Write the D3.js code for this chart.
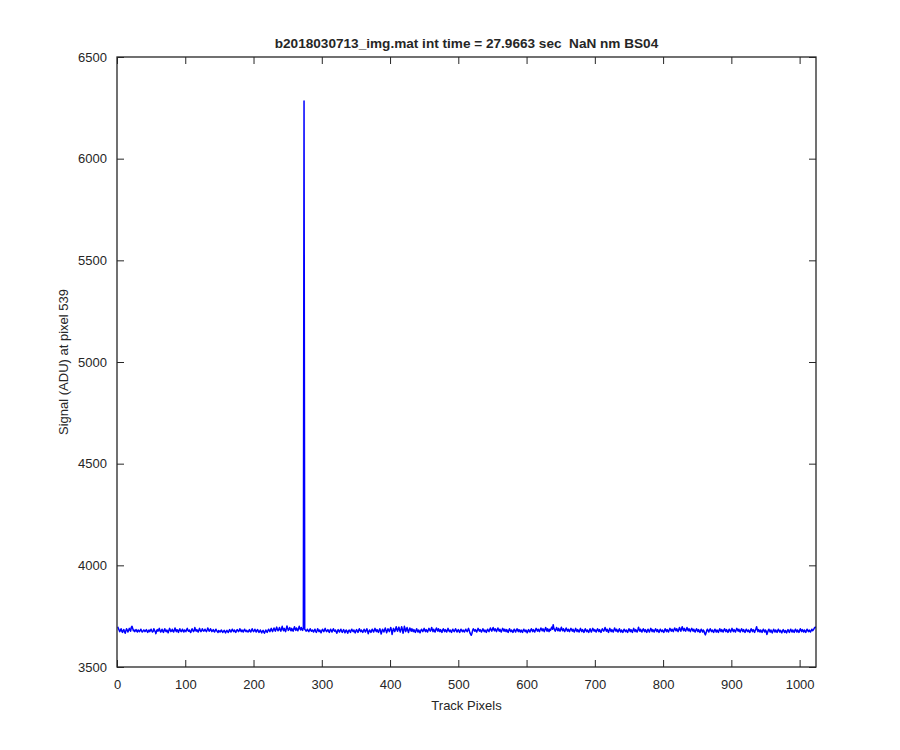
<!DOCTYPE html>
<html><head><meta charset="utf-8">
<script src="https://cdn.jsdelivr.net/npm/d3@7"></script>
<style>
html,body{margin:0;padding:0;background:#fff;}
svg text{font-family:"Liberation Sans",Arial,Helvetica,sans-serif;fill:#262626;}
</style></head>
<body>
<svg id="chart" width="900" height="750"></svg>
<script>
const titleText = "b2018030713_img.mat int time = 27.9663 sec  NaN nm BS04";
const xLabel = "Track Pixels";
const yLabel = "Signal (ADU) at pixel 539";
const xTicks = [0,100,200,300,400,500,600,700,800,900,1000];
const yTicks = [3500,4000,4500,5000,5500,6000,6500];
const xDomain = [0,1024];
const yDomain = [3500,6500];
// signal per track pixel (1..1024)
const signal = [
3698,3690,3682,3674,3680,3688,3676,3670,3680,3684,3674,3666,3678,3688,3682,3672,3680,3690,3684,3676,3696,3700,3690,3678,3682,3674,3680,3684,3676,3672,3682,3678,
3674,3680,3686,3678,3672,3676,3682,3680,3674,3678,3684,3676,3670,3678,3682,3674,3680,3686,3678,3672,3676,3688,3680,3674,3664,3678,3684,3676,3682,3690,3678,3672,
3678,3686,3676,3670,3680,3688,3678,3674,3682,3676,3668,3680,3690,3682,3674,3678,3686,3676,3672,3682,3692,3680,3674,3684,3678,3670,3682,3688,3678,3674,3680,3686,
3676,3672,3682,3678,3674,3684,3690,3680,3676,3682,3674,3670,3680,3688,3682,3674,3678,3694,3682,3676,3684,3678,3672,3682,3690,3680,3674,3678,3688,3682,3676,3680,
3686,3678,3674,3682,3692,3684,3676,3680,3688,3682,3674,3678,3684,3676,3672,3680,3686,3678,3674,3670,3680,3676,3672,3678,3682,3674,3670,3676,3680,3674,3668,3676,
3680,3674,3670,3678,3684,3676,3672,3680,3686,3678,3674,3682,3676,3670,3678,3684,3680,3674,3678,3688,3680,3674,3682,3678,3672,3680,3686,3678,3674,3680,3676,3672,
3678,3684,3676,3672,3680,3688,3680,3674,3678,3686,3678,3672,3680,3684,3676,3670,3676,3682,3674,3668,3676,3680,3672,3666,3674,3682,3676,3670,3678,3686,3680,3674,
3682,3690,3680,3674,3684,3692,3682,3676,3688,3696,3684,3678,3686,3694,3682,3676,3688,3700,3686,3678,3690,3682,3674,3688,3702,3690,3680,3686,3694,3684,3678,3690,
3682,3676,3688,3698,3686,3680,3692,3684,3678,3690,3700,3688,3682,3694,3686,3680,3692,6283,3686,3682,3676,3680,3686,3678,3674,3682,3688,3680,3676,3682,3678,3672,
3680,3686,3676,3670,3678,3688,3680,3674,3682,3676,3668,3678,3686,3680,3674,3682,3690,3680,3674,3678,3684,3676,3670,3680,3686,3678,3672,3682,3688,3680,3676,3682,
3674,3666,3676,3684,3678,3672,3680,3686,3676,3670,3678,3684,3676,3668,3678,3682,3674,3666,3676,3682,3676,3670,3680,3686,3678,3674,3682,3674,3668,3678,3684,3676,
3670,3680,3688,3680,3674,3682,3676,3670,3678,3686,3678,3672,3680,3688,3678,3664,3674,3682,3676,3670,3680,3686,3678,3672,3682,3690,3680,3674,3684,3676,3670,3680,
3688,3678,3662,3674,3686,3680,3672,3682,3692,3680,3668,3678,3688,3682,3674,3684,3694,3682,3660,3676,3690,3682,3674,3686,3698,3684,3676,3688,3696,3682,3672,3684,
3698,3686,3666,3678,3700,3688,3674,3684,3694,3680,3670,3682,3692,3684,3676,3688,3680,3674,3684,3676,3670,3680,3688,3678,3672,3682,3676,3668,3678,3686,3680,3674,
3682,3690,3680,3674,3684,3678,3672,3682,3690,3682,3676,3684,3694,3682,3674,3686,3678,3672,3684,3692,3682,3676,3688,3680,3674,3684,3676,3670,3682,3688,3680,3674,
3684,3678,3672,3682,3690,3680,3674,3682,3676,3670,3680,3686,3678,3674,3682,3688,3680,3672,3678,3684,3676,3670,3680,3686,3678,3674,3682,3676,3672,3680,3686,3678,
3674,3682,3690,3680,3668,3662,3656,3666,3680,3688,3682,3676,3684,3678,3672,3682,3690,3682,3676,3684,3678,3672,3680,3688,3680,3674,3682,3676,3670,3680,3686,3678,
3674,3684,3692,3682,3676,3686,3694,3684,3678,3688,3682,3674,3684,3692,3682,3676,3686,3678,3672,3682,3690,3684,3676,3686,3680,3674,3684,3676,3670,3680,3688,3680,
3674,3682,3676,3670,3680,3686,3678,3672,3682,3688,3680,3674,3684,3678,3672,3682,3676,3670,3680,3686,3678,3674,3682,3676,3668,3678,3684,3676,3672,3682,3688,3680,
3674,3684,3678,3672,3682,3690,3682,3676,3686,3680,3674,3684,3692,3684,3678,3688,3680,3674,3686,3694,3684,3676,3688,3682,3674,3686,3680,3690,3696,3686,3708,3690,
3682,3676,3686,3694,3684,3678,3690,3682,3676,3686,3696,3684,3678,3688,3680,3674,3684,3692,3682,3676,3686,3680,3674,3684,3690,3682,3676,3686,3678,3672,3682,3690,
3680,3674,3684,3678,3672,3682,3690,3680,3674,3684,3678,3670,3680,3688,3680,3674,3682,3676,3670,3680,3688,3678,3672,3682,3690,3682,3676,3684,3678,3672,3682,3688,
3680,3674,3684,3676,3670,3680,3688,3682,3676,3684,3694,3684,3676,3686,3678,3670,3682,3690,3680,3674,3684,3678,3672,3682,3692,3682,3676,3686,3678,3672,3682,3688,
3678,3672,3682,3676,3670,3680,3686,3678,3674,3682,3676,3670,3680,3688,3680,3674,3684,3676,3670,3682,3690,3680,3674,3684,3678,3672,3682,3696,3684,3676,3686,3678,
3672,3682,3688,3680,3674,3684,3676,3670,3680,3686,3678,3672,3682,3690,3682,3674,3684,3678,3672,3682,3688,3680,3674,3684,3676,3670,3680,3686,3678,3674,3682,3676,
3670,3680,3688,3680,3674,3684,3678,3672,3682,3690,3682,3676,3686,3680,3674,3684,3692,3684,3678,3688,3680,3674,3684,3694,3684,3676,3688,3698,3686,3678,3690,3682,
3676,3686,3694,3684,3678,3688,3680,3674,3684,3690,3682,3676,3686,3678,3672,3682,3688,3680,3674,3684,3676,3670,3680,3686,3678,3672,3682,3676,3664,3658,3668,3680,
3686,3678,3672,3682,3688,3680,3674,3682,3676,3670,3680,3686,3678,3672,3682,3676,3670,3680,3688,3680,3674,3684,3678,3672,3682,3688,3680,3674,3684,3676,3670,3680,
3686,3678,3672,3682,3690,3680,3674,3684,3678,3672,3682,3690,3682,3676,3686,3678,3672,3682,3688,3680,3674,3684,3676,3670,3680,3686,3678,3674,3682,3676,3670,3680,
3688,3680,3674,3684,3678,3670,3680,3688,3698,3682,3674,3684,3678,3672,3682,3676,3670,3680,3686,3678,3672,3682,3676,3660,3670,3680,3686,3678,3672,3682,3674,3668,
3678,3686,3678,3672,3682,3676,3670,3680,3686,3678,3672,3680,3674,3668,3678,3684,3676,3670,3680,3674,3668,3678,3684,3676,3670,3680,3686,3678,3672,3682,3676,3670,
3680,3686,3678,3672,3682,3676,3670,3680,3688,3680,3674,3684,3678,3672,3682,3676,3670,3680,3686,3678,3674,3682,3676,3672,3680,3686,3678,3682,3688,3694,3696,3692
];

const svg = d3.select("#chart");
const L = 117, R = 816, T = 57, B = 667;
const x = d3.scaleLinear().domain(xDomain).range([L, R]);
const y = d3.scaleLinear().domain(yDomain).range([B, T]);
const axisColor = "#262626";
const tickLen = 7;

svg.append("defs").append("clipPath").attr("id","clip")
  .append("rect").attr("x",L).attr("y",T).attr("width",R-L).attr("height",B-T);
const line = d3.line().x((d,i)=>x(i+1)).y(d=>y(d));
svg.append("path").datum(signal)
  .attr("clip-path","url(#clip)")
  .attr("d", line)
  .attr("fill","none").attr("stroke","#0000ff").attr("stroke-width",1.5)
  .attr("stroke-linejoin","round");

function styleAxis(g){
  g.select(".domain").remove();
  g.selectAll(".tick line").attr("stroke",axisColor).attr("stroke-width",1);
  g.selectAll(".tick text").attr("font-size","13px").attr("fill",axisColor)
    .style("font-family","'Liberation Sans',Arial,sans-serif");
}
svg.append("g").attr("transform",`translate(0,${B})`)
  .call(d3.axisBottom(x).tickValues(xTicks).tickFormat(d3.format("d")).tickSizeInner(-tickLen).tickSizeOuter(0).tickPadding(13))
  .call(styleAxis);
svg.append("g").attr("transform",`translate(0,${T})`)
  .call(d3.axisTop(x).tickValues(xTicks).tickFormat("").tickSizeInner(-tickLen).tickSizeOuter(0))
  .call(styleAxis);
svg.append("g").attr("transform",`translate(${L},0)`)
  .call(d3.axisLeft(y).tickValues(yTicks).tickFormat(d3.format("d")).tickSizeInner(-tickLen).tickSizeOuter(0).tickPadding(10))
  .call(styleAxis);
svg.append("g").attr("transform",`translate(${R},0)`)
  .call(d3.axisRight(y).tickValues(yTicks).tickFormat("").tickSizeInner(-tickLen).tickSizeOuter(0))
  .call(styleAxis);

svg.append("rect").attr("x",L).attr("y",T).attr("width",R-L).attr("height",B-T)
  .attr("fill","none").attr("stroke",axisColor).attr("stroke-width",1.3);

svg.append("text").attr("x",(L+R)/2).attr("y",48)
  .attr("text-anchor","middle").attr("font-size","13.6px").attr("font-weight","bold")
  .style("white-space","pre").attr("fill","#000")
  .text(titleText);
svg.append("text").attr("x",(L+R)/2).attr("y",710)
  .attr("text-anchor","middle").attr("font-size","13px").text(xLabel);
svg.append("text").attr("transform",`translate(68,${(T+B)/2}) rotate(-90)`)
  .attr("text-anchor","middle").attr("font-size","13px").text(yLabel);
</script>
</body></html>
